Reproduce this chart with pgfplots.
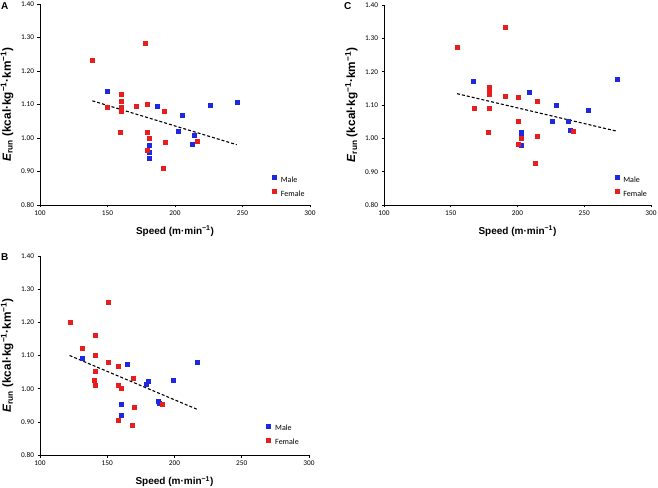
\documentclass[border=0pt]{standalone}
\usepackage{pgfplots}
\pgfplotsset{compat=1.18}
\usepackage{fontspec}
\setmainfont{Liberation Sans}
\newfontfamily\carlito{Carlito}
\definecolor{mblue}{RGB}{30,40,225}
\definecolor{fred}{RGB}{232,30,30}
\pgfplotsset{
  panel/.style={
    scale only axis, width=270pt, height=201pt,
    xmin=100,xmax=300,ymin=0.8,ymax=1.4,
    axis lines=left, axis line style={-,black,line width=0.9pt},
    xtick={100,150,200,250,300}, ytick={0.8,0.9,1.0,1.1,1.2,1.3,1.4},
    tick align=outside, major tick length=2.5pt, tick style={black,line width=0.6pt},
    ticklabel style={font=\carlito\fontsize{7.3}{8}\selectfont},
    yticklabel style={/pgf/number format/.cd, fixed, fixed zerofill, precision=2},
    xticklabel style={/pgf/number format/.cd, fixed, precision=0},
    /pgf/number format/assume math mode=true,
    xlabel={\bfseries Speed (m·min\textsuperscript{−1})},
    ylabel={\bfseries\textit{E}\textsubscript{run} (kcal·kg\textsuperscript{−1}·km\textsuperscript{−1})},
    xlabel style={font=\fontsize{10}{12}\selectfont, yshift=-3.5pt},
    ylabel style={font=\fontsize{11.8}{13}\selectfont, at={(axis description cs:-0.122,0.5)},anchor=center},
    legend style={draw=none,fill=none,font=\carlito\fontsize{8}{9}\selectfont,
      row sep=3pt, column sep=2.5pt, cells={anchor=west}, inner sep=0pt},
    legend image code/.code={\draw[#1] plot coordinates {(0pt,2.7pt)};},
    clip=false,
  },
  male/.style={only marks, mark=square*, mark size=2pt, color=mblue},
  female/.style={only marks, mark=square*, mark size=2pt, color=fred},
  trend/.style={black, dashed, line width=1.1pt, dash pattern=on 3pt off 2pt, forget plot},
}
\begin{document}
\begin{tikzpicture}
\useasboundingbox (0,0) rectangle (658pt,487pt);
% Panel A
\begin{axis}[panel, at={(40pt,282pt)},
  legend style={at={(0.86,0.152)},anchor=north west}]
\addplot[trend] coordinates {(138.8,1.111) (245.7,0.980)};
\addplot[male] coordinates {(149.6,1.141) (186.7,1.095) (205,1.067) (202.7,1.020) (214,1.008) (213,0.980) (226,1.099) (246.4,1.107) (181,0.979) (181,0.959) (181,0.939)};
\addplot[female] coordinates {(138.8,1.231) (177.8,1.283) (149.6,1.091) (160,1.130) (160,1.110) (160,1.091) (160,1.081) (159.5,1.016) (170.9,1.094) (179.3,1.102) (192,1.081) (179.3,1.018) (181.2,1.000) (179.3,0.964) (192.6,0.988) (191,0.909) (216.5,0.989)};
\legend{Male,Female}
\end{axis}
% Panel C
\begin{axis}[panel, at={(384pt,282pt)}, width=267pt, height=200pt,
  legend style={at={(0.864,0.152)},anchor=north west}]
\addplot[trend] coordinates {(154.7,1.134) (274.8,1.021)};
\addplot[male] coordinates {(166.9,1.171) (208.6,1.137) (229.3,1.098) (226.3,1.050) (238.3,1.050) (239.3,1.023) (252.6,1.085) (275,1.178) (202.4,1.019) (202.4,1.013) (202.4,0.980)};
\addplot[female] coordinates {(154.7,1.272) (190.6,1.332) (167.4,1.091) (178.9,1.152) (178.9,1.142) (178.9,1.131) (178.9,1.091) (178.2,1.017) (190.9,1.125) (200.6,1.124) (214.4,1.111) (200.6,1.050) (200.6,0.982) (202.4,1.001) (215.1,1.007) (213.6,0.926) (242,1.021)};
\legend{Male,Female}
\end{axis}
% Panel B
\begin{axis}[panel, at={(40pt,32pt)}, width=269pt, height=199pt,
  legend style={at={(0.842,0.162)},anchor=north west}]
\addplot[trend] coordinates {(122,1.100) (217.8,0.936)};
\addplot[male] coordinates {(131.7,1.092) (164.6,1.074) (180.7,1.024) (178.7,1.013) (199.3,1.026) (217.1,1.080) (160.1,0.952) (160.1,0.921) (188.1,0.961) (188.9,0.957)};
\addplot[female] coordinates {(122.5,1.201) (150.5,1.261) (131.7,1.122) (141.3,1.161) (141.3,1.101) (141.3,1.052) (140.3,1.026) (141.3,1.011) (150.7,1.080) (158.2,1.068) (158.2,1.009) (160.1,1.001) (169.3,1.032) (158.2,0.906) (168.6,0.889) (169.8,0.943) (190.8,0.952)};
\legend{Male,Female}
\end{axis}
\node[anchor=north west,font=\bfseries\fontsize{10}{12}\selectfont,inner sep=0pt] at (1pt,485pt) {A};
\node[anchor=north west,font=\bfseries\fontsize{10}{12}\selectfont,inner sep=0pt] at (344pt,485pt) {C};
\node[anchor=north west,font=\bfseries\fontsize{10}{12}\selectfont,inner sep=0pt] at (1pt,234pt) {B};
\end{tikzpicture}
\end{document}
